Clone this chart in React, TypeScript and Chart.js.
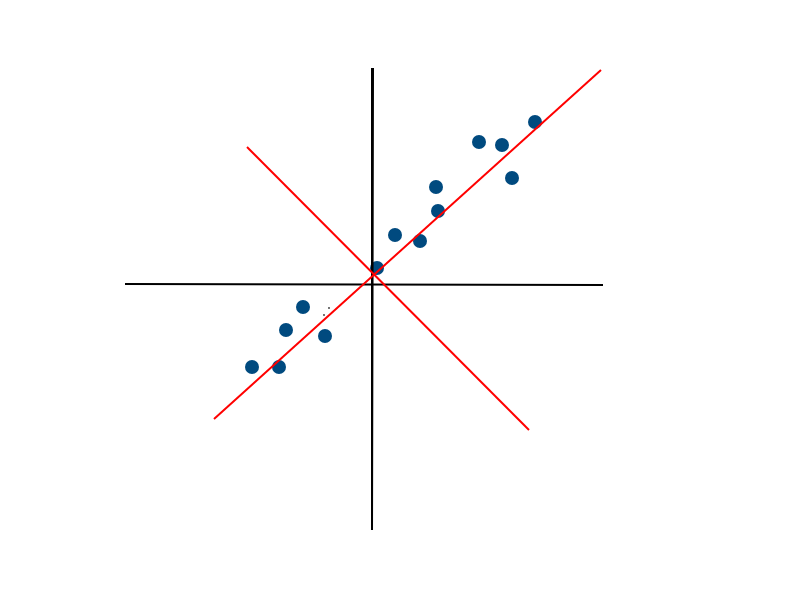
import React, { useEffect, useRef } from "react";
import { Chart, registerables } from "chart.js";

Chart.register(...registerables);

// Observations (centred units)
const obsX = [-12.1, -9.4, -8.7, -7.0, -4.8, 0.4, 2.2, 4.7, 6.3, 6.5, 10.6, 12.9, 13.9, 16.2];
const obsY = [-8.3, -8.3, -4.6, -2.3, -5.2, 1.6, 4.9, 4.3, 9.7, 7.3, 14.2, 13.9, 10.6, 16.2];

// Coordinate axes (black)
const horizAxisX = [-24.8, 23.0];
const horizAxisY = [0.0, -0.1];
const vertAxisX = [0.0, -0.1];
const vertAxisY = [21.6, -24.6];

// Principal component directions (red)
const pc1X = [-15.9, 22.8];
const pc1Y = [-13.5, 21.4];
const pc2X = [-12.6, 15.6];
const pc2Y = [13.7, -14.6];

// Stray specks
const speckX = [-4.9, -4.4];
const speckY = [-3.1, -2.4];

const pts = (xs: number[], ys: number[]) => xs.map((x, i) => ({ x, y: ys[i] }));

export default function App() {
  const ref = useRef<HTMLCanvasElement | null>(null);
  useEffect(() => {
    if (!ref.current) return;
    const lineDs = (label: string, xs: number[], ys: number[], color: string, order: number) => ({
      label,
      data: pts(xs, ys),
      showLine: true,
      borderColor: color,
      borderWidth: 2,
      pointRadius: 0,
      pointHoverRadius: 0,
      fill: false,
      order,
    });
    const chart = new Chart(ref.current, {
      type: "scatter",
      data: {
        datasets: [
          lineDs("PC1", pc1X, pc1Y, "#ff0000", 0),
          lineDs("PC2", pc2X, pc2Y, "#ff0000", 0),
          lineDs("x", horizAxisX, horizAxisY, "#000000", 1),
          lineDs("y", vertAxisX, vertAxisY, "#000000", 1),
          {
            label: "obs",
            data: pts(obsX, obsY),
            pointRadius: 7,
            pointBackgroundColor: "#004a7f",
            pointBorderColor: "#004a7f",
            pointBorderWidth: 0,
            order: 2,
          },
          {
            label: "speck",
            data: pts(speckX, speckY),
            pointRadius: 0.9,
            pointBackgroundColor: "#333333",
            pointBorderWidth: 0,
            order: 2,
          },
        ],
      },
      options: {
        responsive: false,
        animation: false,
        layout: { padding: 0, autoPadding: false },
        plugins: { legend: { display: false }, tooltip: { enabled: false } },
        scales: {
          x: { type: "linear", min: -37.3, max: 42.7, display: false },
          y: { type: "linear", min: -31.6, max: 28.4, display: false },
        },
      },
    });
    return () => chart.destroy();
  }, []);
  return (
    <div style={{ position: "fixed", left: 0, top: 0, width: 800, height: 600, background: "#fff" }}>
      <canvas ref={ref} width={800} height={600} />
    </div>
  );
}
